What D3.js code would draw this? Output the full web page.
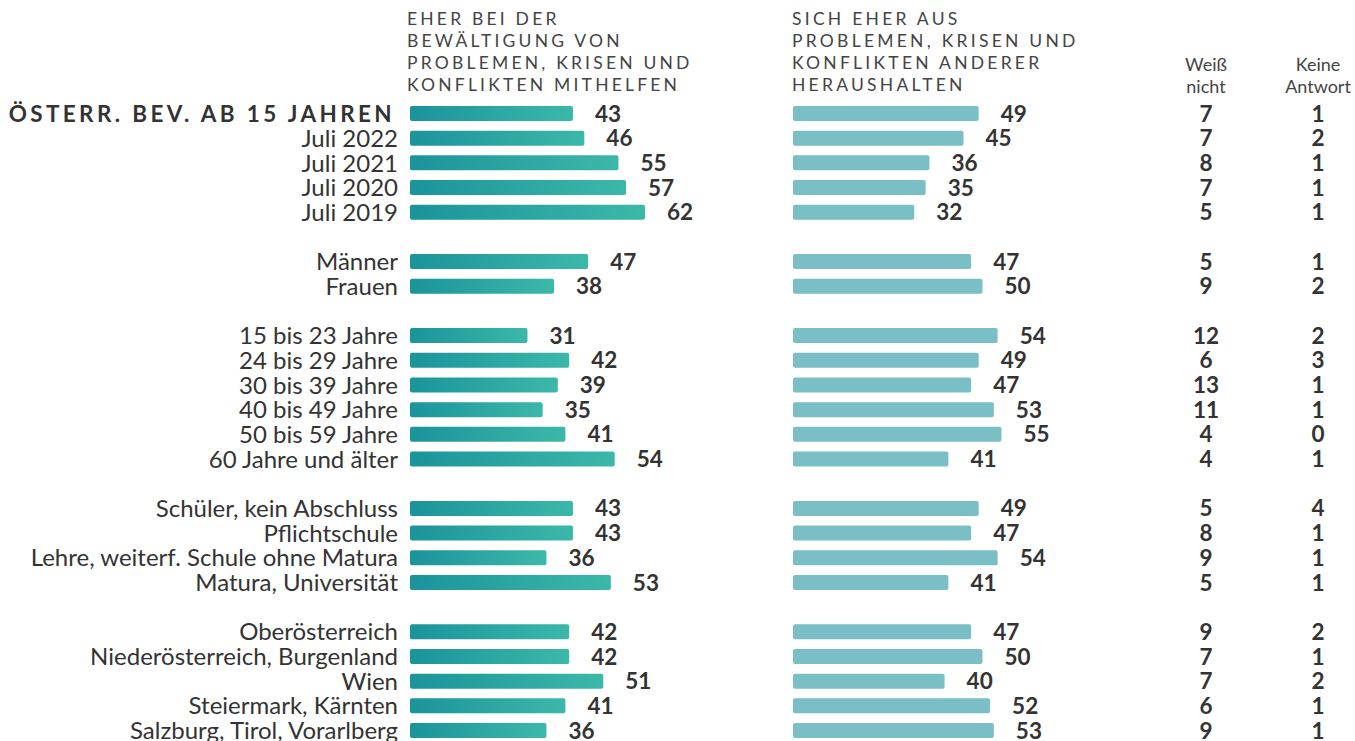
<!DOCTYPE html>
<html>
<head>
<meta charset="utf-8">
<script src="https://cdn.jsdelivr.net/npm/d3@7"></script>
<style>
  body { margin: 0; background: #fff; }
  svg { display: block; font-family: Lato, "Open Sans", sans-serif; }
</style>
</head>
<body>
<div id="chart"></div>
<script>
const categories = [
  "ÖSTERR. BEV. AB 15 JAHREN", "Juli 2022", "Juli 2021", "Juli 2020", "Juli 2019",
  "Männer", "Frauen",
  "15 bis 23 Jahre", "24 bis 29 Jahre", "30 bis 39 Jahre", "40 bis 49 Jahre", "50 bis 59 Jahre", "60 Jahre und älter",
  "Schüler, kein Abschluss", "Pflichtschule", "Lehre, weiterf. Schule ohne Matura", "Matura, Universität",
  "Oberösterreich", "Niederösterreich, Burgenland", "Wien", "Steiermark, Kärnten", "Salzburg, Tirol, Vorarlberg"
]
const mithelfen    = [43, 46, 55, 57, 62, 47, 38, 31, 42, 39, 35, 41, 54, 43, 43, 36, 53, 42, 42, 51, 41, 36]
const heraushalten = [49, 45, 36, 35, 32, 47, 50, 54, 49, 47, 53, 55, 41, 49, 47, 54, 41, 47, 50, 40, 52, 53]
const weissNicht   = [7, 7, 8, 7, 5, 5, 9, 12, 6, 13, 11, 4, 4, 5, 8, 9, 5, 9, 7, 7, 6, 9]
const keineAntwort = [1, 2, 1, 1, 1, 1, 2, 2, 3, 1, 1, 0, 1, 4, 1, 1, 1, 2, 1, 2, 1, 1]
// a blank row follows these category indexes
const gapsAfter = [4, 6, 12, 16]

const headerLeft  = ["EHER BEI DER", "BEWÄLTIGUNG VON", "PROBLEMEN, KRISEN UND", "KONFLIKTEN MITHELFEN"]
const headerRight = ["SICH EHER AUS", "PROBLEMEN, KRISEN UND", "KONFLIKTEN ANDERER", "HERAUSHALTEN"]
const headerWeiss = ["Weiß", "nicht"]
const headerKeine = ["Keine", "Antwort"]

const width = 1355
const height = 741
const textColor = "#333"
const labelRight = 398
const leftX0 = 410
const rightX0 = 793
const weissX = 1206
const keineX = 1318
const barH = 15

// slot list with spacer rows between groups
const slots = []
categories.forEach((c, i) => {
  slots.push(i)
  if (gapsAfter.includes(i)) slots.push("gap" + i)
})

const y = d3.scalePoint().domain(slots).range([113.5, 730.5])
const x = d3.scaleLinear().domain([0, 100]).range([0, 379])

const svg = d3.select("#chart").append("svg")
  .attr("width", width)
  .attr("height", height)

const defs = svg.append("defs")
const grad = defs.append("linearGradient")
  .attr("id", "leftGrad")
  .attr("x1", "0%").attr("x2", "100%")
  .attr("y1", "0%").attr("y2", "0%")
grad.append("stop").attr("offset", "0%").attr("stop-color", "#1a949b")
grad.append("stop").attr("offset", "100%").attr("stop-color", "#3cb8a9")

// column headers
function header(lines, xPos, y0, dy, opts) {
  const t = svg.append("text")
    .attr("x", xPos)
    .attr("fill", "#444")
    .attr("font-size", opts.size)
    .attr("letter-spacing", opts.spacing)
    .attr("text-anchor", opts.anchor)
  lines.forEach((l, i) => {
    t.append("tspan").attr("x", xPos).attr("y", y0 + i * dy).text(l)
  })
}
header(headerLeft, 407, 24.5, 22.3, { size: 17.5, spacing: 3.2, anchor: "start" })
header(headerRight, 792, 24.5, 22.3, { size: 17.5, spacing: 3.25, anchor: "start" })
header(headerWeiss, weissX, 71, 22, { size: 18, spacing: 0, anchor: "middle" })
header(headerKeine, keineX, 71, 22, { size: 18, spacing: 0, anchor: "middle" })

const rows = svg.selectAll(".row")
  .data(categories.map((c, i) => i))
  .enter()
  .append("g")
  .attr("class", "row")
  .attr("transform", i => `translate(0,${y(i)})`)

// category labels
rows.append("text")
  .attr("x", i => i === 0 ? labelRight - 3 : labelRight)
  .attr("dy", "0.36em")
  .attr("text-anchor", "end")
  .attr("fill", textColor)
  .attr("font-size", i => i === 0 ? 22.5 : 24)
  .attr("font-weight", i => i === 0 ? 700 : 400)
  .attr("letter-spacing", i => i === 0 ? 3.35 : 0)
  .text(i => categories[i])

// left bars
rows.append("rect")
  .attr("x", leftX0)
  .attr("y", -barH / 2)
  .attr("width", i => x(mithelfen[i]))
  .attr("height", barH)
  .attr("rx", 2)
  .attr("fill", "url(#leftGrad)")

rows.append("text")
  .attr("x", i => leftX0 + x(mithelfen[i]) + 22)
  .attr("dy", "0.36em")
  .attr("fill", textColor)
  .attr("font-size", 22.5)
  .attr("font-weight", 700)
  .text(i => mithelfen[i])

// right bars
rows.append("rect")
  .attr("x", rightX0)
  .attr("y", -barH / 2)
  .attr("width", i => x(heraushalten[i]))
  .attr("height", barH)
  .attr("rx", 2)
  .attr("fill", "#7abfc5")

rows.append("text")
  .attr("x", i => rightX0 + x(heraushalten[i]) + 22)
  .attr("dy", "0.36em")
  .attr("fill", textColor)
  .attr("font-size", 22.5)
  .attr("font-weight", 700)
  .text(i => heraushalten[i])

// weiss nicht / keine antwort columns
rows.append("text")
  .attr("x", weissX)
  .attr("dy", "0.36em")
  .attr("text-anchor", "middle")
  .attr("fill", textColor)
  .attr("font-size", 22.5)
  .attr("font-weight", 700)
  .text(i => weissNicht[i])

rows.append("text")
  .attr("x", keineX)
  .attr("dy", "0.36em")
  .attr("text-anchor", "middle")
  .attr("fill", textColor)
  .attr("font-size", 22.5)
  .attr("font-weight", 700)
  .text(i => keineAntwort[i])
</script>
</body>
</html>
